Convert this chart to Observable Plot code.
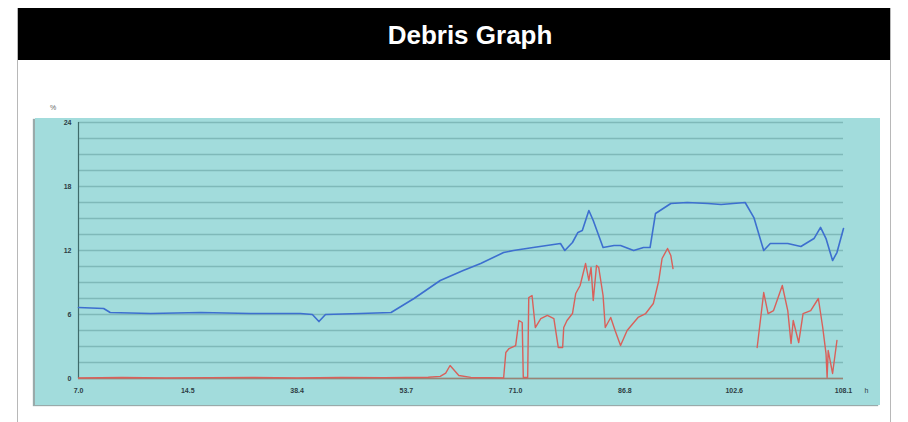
<!DOCTYPE html>
<html>
<head>
<meta charset="utf-8">
<script src="https://cdn.jsdelivr.net/npm/d3@7"></script>
<script src="https://cdn.jsdelivr.net/npm/@observablehq/plot@0.6"></script>
<style>
  html, body { margin: 0; padding: 0; background: #fff; width: 908px; height: 422px; overflow: hidden;
    font-family: "Liberation Sans", Arial, sans-serif; }
  #frame { position: absolute; left: 17px; top: 8px; width: 874px; height: 420px; box-sizing: border-box;
    border-left: 1px solid #b8b8b8; border-right: 1px solid #b8b8b8; }
  #title { height: 52px; background: #000; color: #fff; font-weight: bold; font-size: 26px;
    line-height: 54px; text-align: center; padding-left: 32px; box-sizing: border-box; }
  #unit { position: absolute; left: 50px; top: 104px; font-size: 7px; color: #666; }
  #chart { position: absolute; left: 35px; top: 118px; box-shadow: -2px 1px 1px #9aa; }
</style>
</head>
<body>
<div id="frame"><div id="title">Debris Graph</div></div>
<div id="unit">%</div>
<div id="chart"></div>
<script>
// Sample positions along the run and the labels printed under them
const xTickSamples = [0, 100, 200, 300, 400, 500, 600, 700];
const xTickLabels = ["7.0", "14.5", "38.4", "53.7", "71.0", "86.8", "102.6", "108.1"];
const yTicks = [0, 6, 12, 18, 24];
const gridLevels = [0, 1.5, 3, 4.5, 6, 7.5, 9, 10.5, 12, 13.5, 15, 16.5, 18, 19.5, 21, 22.5, 24];

// Blue trace
const blueSample = [0, 23, 29, 66, 112, 157, 203, 214, 220, 226, 258, 286, 307, 331, 352, 368, 389, 398,
  416, 441, 445, 452, 457, 461, 467, 471, 480, 490, 496, 508, 517, 523, 528, 542, 557, 576, 588, 610,
  618, 627, 633, 649, 661, 673, 679, 684, 690, 694, 700];
const blueValue = [6.66, 6.56, 6.19, 6.09, 6.19, 6.09, 6.09, 6.0, 5.34, 6.0, 6.09, 6.19, 7.5, 9.19, 10.12,
  10.78, 11.81, 12.0, 12.28, 12.66, 12.0, 12.75, 13.69, 13.87, 15.75, 14.81, 12.28, 12.47, 12.47, 12.0,
  12.28, 12.28, 15.47, 16.41, 16.5, 16.41, 16.31, 16.5, 15.09, 12.0, 12.66, 12.66, 12.37, 13.12, 14.16,
  13.12, 11.06, 11.81, 14.06];

// Red trace (NaN marks the stretch with no reading)
const redSample = [0, 40, 80, 120, 160, 200, 240, 280, 320, 331, 336, 340, 348, 359, 375, 389, 391, 394,
  400, 403, 406, 407, 411, 412, 415, 418, 423, 429, 435, 439, 443, 444, 447, 452, 455, 459, 464, 467,
  469, 471, 474, 476, 480, 482, 487, 491, 496, 502, 512, 519, 526, 531, 534, 539, 542, 544, 580,
  621, 627, 631, 636, 644, 649, 652, 654, 659, 663, 670, 677, 681, 684, 685, 686, 690, 694];
const redValue = [0.05, 0.1, 0.05, 0.08, 0.1, 0.05, 0.1, 0.08, 0.12, 0.2, 0.5, 1.22, 0.28, 0.1, 0.08, 0.05,
  2.44, 2.81, 3.09, 5.44, 5.25, 0.09, 0.09, 7.59, 7.78, 4.78, 5.62, 5.91, 5.62, 2.91, 2.91, 4.78, 5.44,
  6.09, 7.97, 8.72, 10.78, 9.19, 10.41, 7.31, 10.59, 10.41, 7.78, 4.78, 5.72, 4.5, 3.09, 4.5, 5.72, 6.09,
  7.03, 9.19, 11.25, 12.19, 11.53, 10.31, NaN,
  2.91, 8.06, 6.09, 6.37, 8.72, 6.37, 3.28, 5.44, 3.37, 6.09, 6.37, 7.5, 4.78, 2.34, 0.09, 2.62, 0.47, 3.56];

const blue = blueSample.map((s, i) => ({s, v: blueValue[i]}));
const red = redSample.map((s, i) => ({s, v: redValue[i]}));

const chart = Plot.plot({
  width: 845,
  height: 287,
  marginTop: 4,
  marginBottom: 27,
  marginLeft: 43,
  marginRight: 37,
  style: {background: "#a2dcdc", fontFamily: "Liberation Sans, Arial, sans-serif", fontSize: "7px", color: "#2d3d44"},
  x: {domain: [0, 700]},
  y: {domain: [0, 24]},
  marks: [
    Plot.ruleY(gridLevels, {stroke: "#7fb9b9", strokeWidth: 1.3}),
    Plot.ruleY([0], {stroke: "#9a8476", strokeWidth: 1.5}),
    Plot.ruleX([0], {stroke: "#3f6b6b", strokeWidth: 1.2}),
    Plot.axisY(yTicks, {tickSize: 0, tickPadding: 7, fontWeight: "bold", label: null}),
    Plot.axisX(xTickSamples, {tickSize: 0, tickPadding: 10, fontWeight: "bold", label: null,
      tickFormat: d => xTickLabels[xTickSamples.indexOf(d)]}),
    Plot.line(red, {x: "s", y: "v", stroke: "#d9605a", strokeWidth: 1.4}),
    Plot.line(blue, {x: "s", y: "v", stroke: "#3d6fcf", strokeWidth: 1.6}),
    Plot.text(["h"], {frameAnchor: "bottom-right", dx: 25, dy: 14, fontSize: 7, fill: "#2d3d44"})
  ]
});
document.getElementById("chart").appendChild(chart);
</script>
</body>
</html>
